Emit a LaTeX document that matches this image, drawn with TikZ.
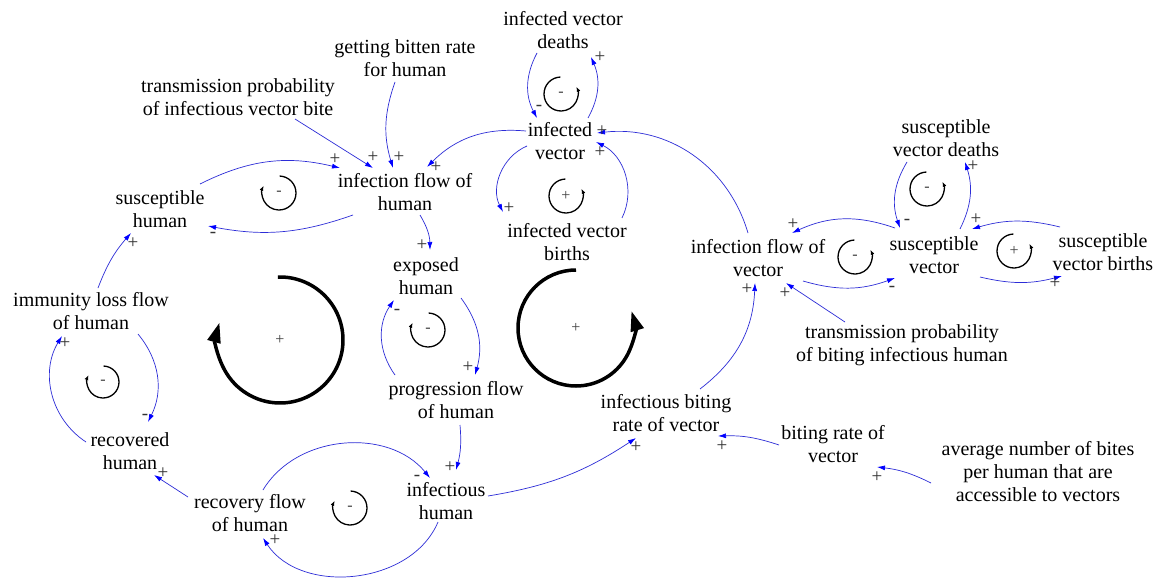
\documentclass[tikz,border=0pt]{standalone}
\usepackage{fontspec}
\setmainfont{Liberation Serif}
\usetikzlibrary{arrows.meta,calc}
\definecolor{linkblue}{RGB}{45,45,215}
\definecolor{tipblue}{RGB}{0,0,255}
\definecolor{signgray}{RGB}{50,50,50}

\begin{document}
\begin{tikzpicture}[x=1pt,y=-1pt,
  var/.style={align=center, font=\fontsize{20}{23}\selectfont, inner sep=1pt},
  link/.style={draw=linkblue, line width=0.7pt, -{Latex[length=8pt,width=5pt,color=tipblue]}},
  pol/.style={font=\fontsize{19}{19}\selectfont, text=signgray, inner sep=0pt},
  loopsign/.style={font=\fontsize{16}{16}\selectfont, text=black!75, inner sep=0pt},
  smallloop/.style={draw=black, line width=1.3pt, -{Latex[length=5pt,width=4pt]}},
  bigloop/.style={draw=black, line width=3.5pt, -{Triangle[length=20pt,width=13pt]}}
]
\useasboundingbox[fill=white] (0,0) rectangle (1162,578);

% ---------- variables ----------
\node[var] (ivd) at (563,30)  {infected vector\\deaths};
\node[var] (gbr) at (405,58)  {getting bitten rate\\for human};
\node[var] (tpv) at (238,97)  {transmission probability\\of infectious vector bite};
\node[var] (ifh) at (405,192) {infection flow of\\human};
\node[var] (sh)  at (160,209) {susceptible\\human};
\node[var] (iv)  at (560,141) {infected\\vector};
\node[var] (ivb) at (567,242) {infected vector\\births};
\node[var] (svd) at (946,138) {susceptible\\vector deaths};
\node[var] (ifv) at (758,258) {infection flow of\\vector};
\node[var] (sv)  at (934,255) {susceptible\\vector};
\node[var] (svb) at (1103,252) {susceptible\\vector births};
\node[var] (eh)  at (426,276) {exposed\\human};
\node[var] (ilf) at (91,311)  {immunity loss flow\\of human};
\node[var] (pfh) at (456,400) {progression flow\\of human};
\node[var] (tph) at (902,345) {transmission probability\\of biting infectious human};
\node[var] (ibr) at (666,413) {infectious biting\\rate of vector};
\node[var] (brv) at (833,444) {biting rate of\\vector};
\node[var] (anb) at (1038,472) {average number of bites\\per human that are\\accessible to vectors};
\node[var] (rh)  at (130,451) {recovered\\human};
\node[var] (rfh) at (250,513) {recovery flow\\of human};
\node[var] (inh) at (446,501) {infectious\\human};

% ---------- causal links ----------
\draw[link] ($(tpv)+(57,22)$) -- ($(ifh)+(-32,-24)$);
\node[pol] (pA) at (373,157) {+};
\draw[link] ($(gbr)+(-10,24)$) to[bend right=18] ($(ifh)+(-12,-24)$);
\node[pol] (pB) at (399,157) {+};
\draw[link] ($(iv)+(-34,-10)$) to[bend right=25] ($(ifh)+(22,-25)$);
\node[pol] (pC) at (436,167) {+};
\draw[link] ($(sh)+(40,-25)$) to[bend left=20] ($(ifh)+(-65,-24)$);
\node[pol] (pD) at (335,159) {+};
\draw[link] ($(ifh)+(-52,23)$) to[bend left=15] ($(sh)+(48,17)$);
\node[pol] (pE) at (213,235) {-};
\draw[link] ($(ifh)+(15,23)$) to[bend left=15] ($(eh)+(4,-26)$);
\node[pol] (pF) at (422,245) {+};
\draw[link] ($(eh)+(35,22)$) to[bend left=26] ($(pfh)+(19,-25)$);
\node[pol] (pG) at (468,367) {+};
\draw[link] ($(pfh)+(-61,-25)$) to[bend left=35] ($(eh)+(-32,24)$);
\node[pol] (pH) at (397,312) {-};
\draw[link] ($(pfh)+(4,25)$) to[bend left=10] ($(inh)+(10,-31)$);
\node[pol] (pI) at (450,467) {+};
\draw[link] ($(rfh)+(13,-23)$) to[bend left=55] ($(inh)+(-16,-23)$);
\node[pol] (pJ) at (417,478) {-};
\draw[link] ($(inh)+(-8,21)$) to[bend left=62] ($(rfh)+(13,25)$);
\node[pol] (pK) at (275,540) {+};
\draw[link] ($(rfh)+(-62,-16)$) -- ($(rh)+(24,24)$);
\node[pol] (pL) at (163,473) {+};
\draw[link] ($(ilf)+(47,23)$) to[bend left=33] ($(rh)+(18,-29)$);
\node[pol] (pM) at (145,417) {-};
\draw[link] ($(rh)+(-44,-9)$) to[bend left=44] ($(ilf)+(-29,25)$);
\node[pol] (pN) at (65,343) {+};
\draw[link] ($(ilf)+(7,-23)$) to[bend left=10] ($(sh)+(-29,24)$);
\node[pol] (pO) at (133,243) {+};
\draw[link] ($(iv)+(28,-23)$) to[bend right=26] ($(ivd)+(28,27)$);
\node[pol] (pP) at (600,57) {+};
\draw[link] ($(ivd)+(-26,23)$) to[bend right=28] ($(iv)+(-23,-23)$);
\node[pol] (pQ) at (539,108) {-};
\draw[link] ($(iv)+(-33,5)$) to[bend right=47] ($(ivb)+(-64,-30)$);
\node[pol] (pR) at (509,208) {+};
\draw[link] ($(ivb)+(55,-24)$) to[bend right=45] ($(iv)+(36,1)$);
\node[pol] (pS) at (600,152) {+};
\draw[link] ($(ifv)+(-10,-25)$) to[bend right=40] ($(iv)+(37,-8)$);
\node[pol] (pT) at (602,131) {+};
\draw[link] ($(sv)+(-39,-27)$) to[bend right=22] ($(ifv)+(34,-25)$);
\node[pol] (pU) at (793,224) {+};
\draw[link] ($(ifv)+(45,23)$) to[bend right=18] ($(sv)+(-39,23)$);
\node[pol] (pV) at (892,289) {-};
\draw[link] ($(sv)+(26,-26)$) to[bend right=22] ($(svd)+(19,24)$);
\node[pol] (pW) at (973,166) {+};
\draw[link] ($(svd)+(-39,24)$) to[bend right=25] ($(sv)+(-34,-27)$);
\node[pol] (pX) at (907,222) {-};
\draw[link] ($(svb)+(-43,-25)$) to[bend right=15] ($(sv)+(38,-26)$);
\node[pol] (pY) at (976,219) {+};
\draw[link] ($(sv)+(46,22)$) to[bend right=14] ($(svb)+(-41,24)$);
\node[pol] (pZ) at (1055,283) {+};
\draw[link] ($(ibr)+(34,-24)$) to[bend right=25] ($(ifv)+(-3,25)$);
\node[pol] (pAA) at (747,289) {+};
\draw[link] ($(tph)+(-57,-23)$) -- ($(ifv)+(28,25)$);
\node[pol] (pAB) at (785,293) {+};
\draw[link] ($(inh)+(42,-5)$) to[bend right=12] ($(ibr)+(-30,25)$);
\node[pol] (pAC) at (636,447) {+};
\draw[link] ($(brv)+(-54,1)$) to[bend right=10] ($(ibr)+(52,23)$);
\node[pol] (pAD) at (722,446) {+};
\draw[link] ($(anb)+(-107,11)$) to[bend right=10] ($(brv)+(44,23)$);
\node[pol] (pAE) at (877,477) {+};

% ---------- loop markers (clockwise: arrow on the left) ----------
\node[loopsign] (L1) at (279,193) {-};
\draw[smallloop] ($(L1)+(-88:17)$) arc[start angle=-88, end angle=205, radius=17];
\node[loopsign] (L2) at (428,330) {-};
\draw[smallloop] ($(L2)+(-88:17)$) arc[start angle=-88, end angle=205, radius=17];
\node[loopsign] (L3) at (350,508) {-};
\draw[smallloop] ($(L3)+(-88:17)$) arc[start angle=-88, end angle=205, radius=17];
\node[loopsign] (L4) at (103,382) {-};
\draw[smallloop] ($(L4)+(-88:16)$) arc[start angle=-88, end angle=205, radius=16];

% ---------- loop markers (counter-clockwise: arrow on the right) ----------
\node[loopsign] (L5) at (561,94) {-};
\draw[smallloop] ($(L5)+(268:17)$) arc[start angle=268, end angle=-25, radius=17];
\node[loopsign] (L6) at (566,196) {+};
\draw[smallloop] ($(L6)+(268:17)$) arc[start angle=268, end angle=-25, radius=17];
\node[loopsign] (L7) at (855,257) {-};
\draw[smallloop] ($(L7)+(268:17)$) arc[start angle=268, end angle=-25, radius=17];
\node[loopsign] (L8) at (927,189) {-};
\draw[smallloop] ($(L8)+(268:17)$) arc[start angle=268, end angle=-25, radius=17];
\node[loopsign] (L9) at (1014,251) {+};
\draw[smallloop] ($(L9)+(268:17)$) arc[start angle=268, end angle=-25, radius=17];

% ---------- main reinforcing loops ----------
\node[loopsign] (BL) at (280,340) {+};
\draw[bigloop] ($(BL)+(-92:63)$) arc[start angle=-92, end angle=196, radius=63];
\node[loopsign] (BR) at (576,328) {+};
\draw[bigloop] ($(BR)+(270:58)$) arc[start angle=270, end angle=-17, radius=58];

\end{tikzpicture}
\end{document}
